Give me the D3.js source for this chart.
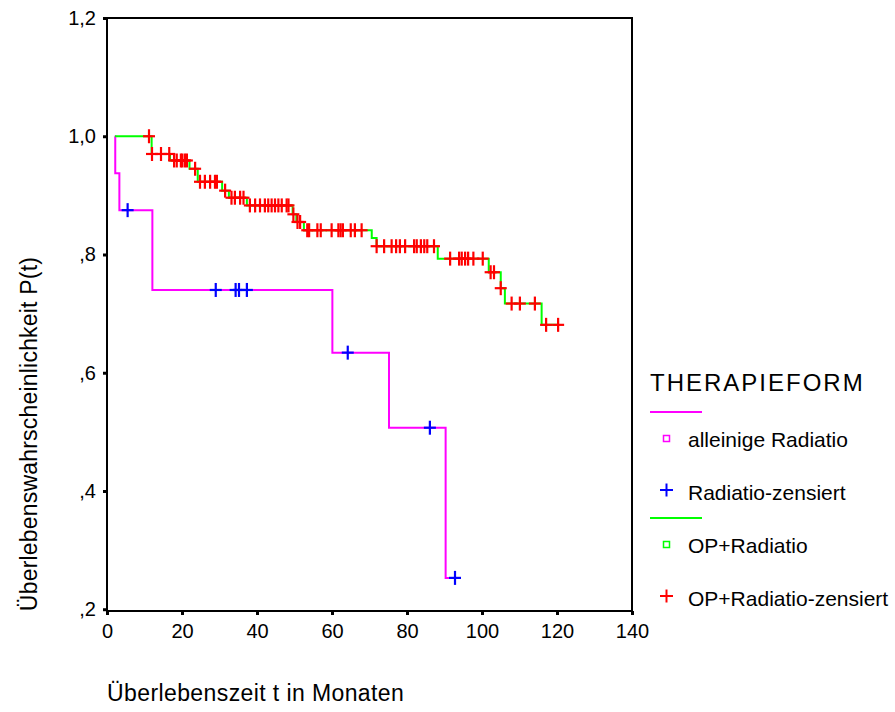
<!DOCTYPE html>
<html>
<head>
<meta charset="utf-8">
<script src="https://cdn.jsdelivr.net/npm/d3@7"></script>
<style>
  body { margin: 0; background: #fff; }
  svg { font-family: "Liberation Sans", Arial, sans-serif; }
  .axis .domain { display: none; }
  .axis line { stroke: #000; stroke-width: 3; }
  .axis text { font-size: 20px; fill: #000; }
</style>
</head>
<body>
<div id="chart"></div>
<script>
// Kaplan-Meier data (time in months, survival)
var radTime = [2.1, 2.2, 3.3, 12.1, 60.1, 75.2, 90.3];
var radSurv = [1.0, 0.9375, 0.875, 0.740, 0.634, 0.507, 0.253];
var radCens = [5.5, 29.0, 34.3, 35.2, 37.3, 64.2, 86.1, 92.8];

var opTime = [2.1, 11.9, 16.8, 22.0, 24.2, 30.7, 32.5, 37.3, 49.5, 50.5, 52.5, 70.6, 71.9, 88.2, 101.8, 105.0, 106.1, 115.9];
var opSurv = [1.0, 0.970, 0.959, 0.945, 0.923, 0.908, 0.896, 0.883, 0.868, 0.855, 0.841, 0.828, 0.814, 0.793, 0.770, 0.743, 0.717, 0.681];
var opCens = [11.2, 12.0, 14.4, 16.6, 17.9, 18.6, 19.7, 20.1, 20.8, 21.3, 23.5, 24.8, 26.1, 27.5, 28.8, 29.3,
  31.5, 33.2, 34.1, 35.5, 36.4, 38.1, 39.5, 40.8, 42.1, 43.0, 43.9, 44.8, 45.7, 46.6, 47.9, 48.4,
  49.7, 50.8, 51.5, 53.4, 53.9, 56.1, 57.0, 59.9, 61.7, 62.3, 62.9, 65.0, 66.1, 67.9,
  71.9, 73.9, 75.9, 77.1, 78.1, 79.5, 81.9, 82.6, 83.7, 84.6, 85.4, 87.2,
  91.5, 93.9, 94.6, 95.5, 96.3, 97.7, 100.2, 102.3, 103.2, 105.0, 107.9, 110.1, 114.1, 117.1, 120.3];

var xTicks = [0, 20, 40, 60, 80, 100, 120, 140];
var yTicks = [1.2, 1.0, 0.8, 0.6, 0.4, 0.2];
var yTickLabels = ["1,2", "1,0", ",8", ",6", ",4", ",2"];

var legendLabels = ["alleinige Radiatio", "Radiatio-zensiert", "OP+Radiatio", "OP+Radiatio-zensiert"];

var W = 895, H = 712;

var svg = d3.select("#chart").append("svg")
  .attr("width", W)
  .attr("height", H);

var x = d3.scaleLinear().domain([0, 140]).range([107, 632]);
var y = d3.scaleLinear().domain([0.197, 1.2]).range([611, 18]);

// frame
svg.append("rect")
  .attr("x", x(0)).attr("y", y(1.2))
  .attr("width", x(140) - x(0)).attr("height", y(0.197) - y(1.2))
  .attr("fill", "none").attr("stroke", "#000").attr("stroke-width", 2);

// axes
svg.append("g")
  .attr("class", "axis")
  .attr("transform", "translate(" + x(0) + ",0)")
  .call(d3.axisLeft(y).tickValues(yTicks).tickSize(4).tickPadding(7)
    .tickFormat(function(d, i) { return yTickLabels[i]; }));

svg.append("g")
  .attr("class", "axis")
  .attr("transform", "translate(0," + y(0.197) + ")")
  .call(d3.axisBottom(x).tickValues(xTicks).tickSize(4).tickPadding(9));

// axis titles
svg.append("text")
  .attr("x", 107).attr("y", 701)
  .attr("font-size", 23).attr("letter-spacing", 0.4)
  .text("Überlebenszeit t in Monaten");

svg.append("text")
  .attr("transform", "translate(37,434) rotate(-90)")
  .attr("text-anchor", "middle")
  .attr("font-size", 23).attr("letter-spacing", 0.2)
  .text("Überlebenswahrscheinlichkeit P(t)");

// step curves
function stepPoints(times, surv, cens) {
  var pts = times.map(function(t, i) { return [t, surv[i]]; });
  var last = d3.max(cens.concat(times));
  pts.push([last, surv[surv.length - 1]]);
  return pts;
}
function survAt(times, surv, t) {
  var i = d3.bisectRight(times, t) - 1;
  return surv[Math.max(i, 0)];
}

var line = d3.line()
  .x(function(d) { return x(d[0]); })
  .y(function(d) { return y(d[1]); })
  .curve(d3.curveStepAfter);

function drawCrosses(times, surv, cens, color) {
  var g = svg.append("g").attr("stroke", color).attr("stroke-width", 2.2);
  cens.forEach(function(t) {
    var cx = x(t), cy = y(survAt(times, surv, t));
    g.append("line").attr("x1", cx - 6).attr("x2", cx + 6).attr("y1", cy).attr("y2", cy);
    g.append("line").attr("x1", cx).attr("x2", cx).attr("y1", cy - 7).attr("y2", cy + 7);
  });
}

svg.append("path")
  .datum(stepPoints(radTime, radSurv, radCens))
  .attr("d", line)
  .attr("fill", "none").attr("stroke", "#ff00ff").attr("stroke-width", 2);

svg.append("path")
  .datum(stepPoints(opTime, opSurv, opCens))
  .attr("d", line)
  .attr("fill", "none").attr("stroke", "#00ff00").attr("stroke-width", 2);

drawCrosses(radTime, radSurv, radCens, "#0000ff");
drawCrosses(opTime, opSurv, opCens, "#ff0000");

// legend
var lg = svg.append("g").attr("transform", "translate(650,0)");
lg.append("text").attr("x", 0).attr("y", 391)
  .attr("font-size", 24).attr("letter-spacing", 2)
  .text("THERAPIEFORM");

var legColors = ["#ff00ff", "#0000ff", "#00ff00", "#ff0000"];
var legY = [440, 493, 546, 599];

[0, 2].forEach(function(i) {
  lg.append("line").attr("x1", 0).attr("x2", 52)
    .attr("y1", legY[i] - 28).attr("y2", legY[i] - 28)
    .attr("stroke", legColors[i]).attr("stroke-width", 2);
  lg.append("rect").attr("x", 13.5).attr("y", legY[i] - 4.5)
    .attr("width", 6).attr("height", 6)
    .attr("fill", "none").attr("stroke", legColors[i]).attr("stroke-width", 1.5);
});
[1, 3].forEach(function(i) {
  var g = lg.append("g").attr("stroke", legColors[i]).attr("stroke-width", 2);
  g.append("line").attr("x1", 10).attr("x2", 23).attr("y1", legY[i] - 3).attr("y2", legY[i] - 3);
  g.append("line").attr("x1", 16.5).attr("x2", 16.5).attr("y1", legY[i] - 9.5).attr("y2", legY[i] + 3.5);
});
legendLabels.forEach(function(d, i) {
  lg.append("text").attr("x", 38).attr("y", legY[i] + 7)
    .attr("font-size", 21)
    .text(d);
});
</script>
</body>
</html>
